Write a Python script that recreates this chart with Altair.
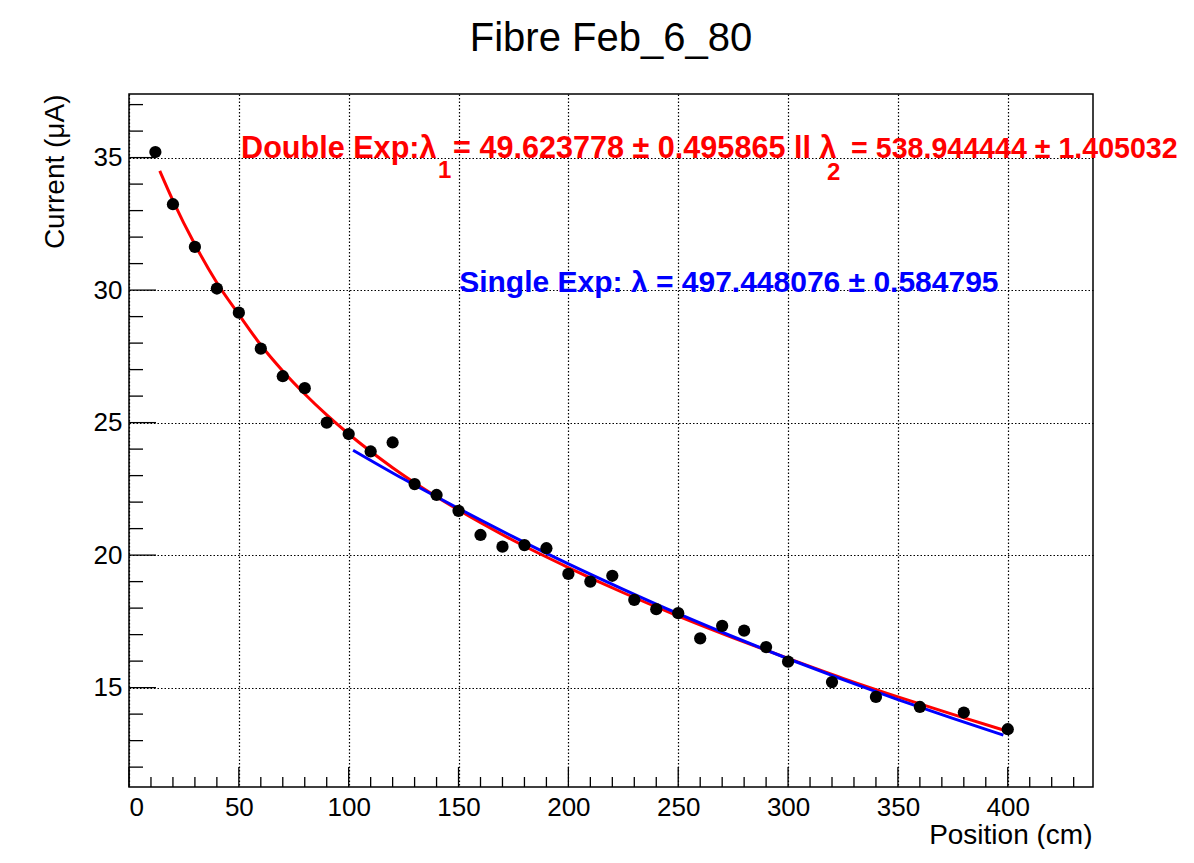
import altair as alt
import pandas as pd

# ---- data ----
positions = [12, 20, 30, 40, 50, 60, 70, 80, 90, 100, 110, 120, 130, 140, 150,
             160, 170, 180, 190, 200, 210, 220, 230, 240, 250, 260, 270, 280,
             290, 300, 320, 340, 360, 380, 400]
currents = [35.21, 33.24, 31.63, 30.06, 29.15, 27.79, 26.75, 26.30, 25.00, 24.57,
            23.91, 24.25, 22.68, 22.27, 21.67, 20.76, 20.32, 20.38, 20.26, 19.29,
            19.00, 19.22, 18.31, 17.96, 17.81, 16.86, 17.33, 17.15, 16.53, 15.98,
            15.21, 14.65, 14.27, 14.06, 13.43]

double_x = [14, 20, 30, 40, 50, 60, 70, 80, 90, 100, 120, 150, 175, 200, 225,
            250, 275, 300, 325, 350, 375, 398]
double_y = [34.50, 33.38, 31.72, 30.28, 29.08, 27.93, 26.95, 26.08, 25.29, 24.57,
            23.30, 21.70, 20.55, 19.53, 18.58, 17.70, 16.88, 16.10, 15.35, 14.65,
            13.99, 13.40]

single_x = [102, 125, 150, 175, 200, 225, 250, 275, 300, 325, 350, 375, 398]
single_y = [23.96, 22.87, 21.76, 20.69, 19.67, 18.71, 17.79, 16.92, 16.09, 15.30,
            14.55, 13.84, 13.21]

x_major = [0, 50, 100, 150, 200, 250, 300, 350, 400]
x_minor = [v for v in range(10, 440, 10) if v % 50 != 0]
y_major = [15, 20, 25, 30, 35]
y_minor = [v for v in range(12, 38) if v % 5 != 0]

red_text = ["Double Exp:\u03bb", "= 49.623778 \u00b1 0.495865 ll \u03bb"]
red_text_x = [51.0, 147.5]
red_text_y = [34.98, 34.98]
red_tail = ["= 538.944444 \u00b1 1.405032"]
red_tail_x = [328.7]
red_tail_y = [34.98]
red_sub = ["1", "2"]
red_sub_x = [140.6, 317.7]
red_sub_y = [34.22, 34.14]
blue_text = ["Single Exp: \u03bb = 497.448076 \u00b1 0.584795"]
blue_text_x = [150.3]
blue_text_y = [29.92]

# ---- chart ----
W, H = 964, 693
FONT = "Liberation Sans"
xscale = alt.Scale(domain=[0, 438.8], nice=False, zero=False)
yscale = alt.Scale(domain=[11.25, 37.4], nice=False, zero=False)

x_axis = alt.Axis(values=x_major, title="Position (cm)", grid=True, ticks=False,
                  domain=False, labelFontSize=26, labelFont=FONT, labelColor="black",
                  labelBaseline="alphabetic", labelPadding=28,
                  titleFontSize=28, titleFont=FONT, titleFontWeight="normal",
                  titleColor="black", titleX=963, titleY=56, titleAlign="right",
                  titleAnchor="end", titleBaseline="alphabetic")
y_axis = alt.Axis(values=y_major, title="Current (\u03bcA)", grid=True, ticks=False,
                  domain=False, labelFontSize=26, labelFont=FONT, labelColor="black",
                  labelPadding=7, titleFontSize=28, titleFont=FONT,
                  titleFontWeight="normal", titleColor="black", titleX=-66, titleY=0,
                  titleAlign="right", titleAnchor="end", titleBaseline="alphabetic",
                  titleAngle=270)


def X():
    return alt.X("x:Q", scale=xscale, axis=x_axis)


def Y():
    return alt.Y("y:Q", scale=yscale, axis=y_axis)


pts = pd.DataFrame({"x": positions, "y": currents})
dbl = pd.DataFrame({"x": double_x, "y": double_y})
sgl = pd.DataFrame({"x": single_x, "y": single_y})
xmaj = pd.DataFrame({"x": x_major})
xmin = pd.DataFrame({"x": x_minor})
ymaj = pd.DataFrame({"y": y_major})
ymin = pd.DataFrame({"y": y_minor})
rt = pd.DataFrame({"x": red_text_x, "y": red_text_y, "t": red_text})
rtail = pd.DataFrame({"x": red_tail_x, "y": red_tail_y, "t": red_tail})
rs = pd.DataFrame({"x": red_sub_x, "y": red_sub_y, "t": red_sub})
bt = pd.DataFrame({"x": blue_text_x, "y": blue_text_y, "t": blue_text})

points = alt.Chart(pts).mark_circle(size=150, color="black", opacity=1).encode(x=X(), y=Y())
red_line = alt.Chart(dbl).mark_line(color="#ff0000", strokeWidth=3,
                                    interpolate="monotone").encode(x=X(), y=Y())
blue_line = alt.Chart(sgl).mark_line(color="#0000ff", strokeWidth=3,
                                     interpolate="monotone").encode(x=X(), y=Y())

xt_major = alt.Chart(xmaj).mark_rule(color="black", strokeWidth=1.3).encode(
    x=X(), y=alt.value(H), y2=alt.value(H - 20))
xt_minor = alt.Chart(xmin).mark_rule(color="black", strokeWidth=1.3).encode(
    x=X(), y=alt.value(H), y2=alt.value(H - 10))
yt_major = alt.Chart(ymaj).mark_rule(color="black", strokeWidth=1.3).encode(
    y=Y(), x=alt.value(0), x2=alt.value(27))
yt_minor = alt.Chart(ymin).mark_rule(color="black", strokeWidth=1.3).encode(
    y=Y(), x=alt.value(0), x2=alt.value(14))

red_label = alt.Chart(rt).mark_text(align="left", baseline="alphabetic", fontSize=30.6,
                                    fontWeight="bold", font=FONT, color="#ff0000").encode(
    x=X(), y=Y(), text="t:N")
red_tail_label = alt.Chart(rtail).mark_text(align="left", baseline="alphabetic",
                                            fontSize=28.6, fontWeight="bold", font=FONT,
                                            color="#ff0000").encode(
    x=X(), y=Y(), text="t:N")
red_subs = alt.Chart(rs).mark_text(align="left", baseline="alphabetic", fontSize=24,
                                   fontWeight="bold", font=FONT, color="#ff0000").encode(
    x=X(), y=Y(), text="t:N")
blue_label = alt.Chart(bt).mark_text(align="left", baseline="alphabetic", fontSize=30,
                                     fontWeight="bold", font=FONT, color="#0000ff").encode(
    x=X(), y=Y(), text="t:N")

chart = alt.layer(
    xt_major, xt_minor, yt_major, yt_minor,
    red_line, blue_line, points,
    red_label, red_tail_label, red_subs, blue_label,
).properties(
    width=W, height=H,
    title=alt.TitleParams("Fibre Feb_6_80", fontSize=40, font=FONT, fontWeight="normal",
                          anchor="middle", baseline="alphabetic", offset=3, color="black"),
    padding={"left": 121, "top": 86, "right": 93, "bottom": 62},
    autosize=alt.AutoSizeParams(type="none"),
    background="white",
).configure_view(
    stroke="black", strokeWidth=1.5
).configure_axis(
    gridColor="black", gridDash=[1.5, 2], gridWidth=1.2, gridOpacity=1
)

chart.save("out.html", embed_options={"renderer": "svg", "actions": False})
